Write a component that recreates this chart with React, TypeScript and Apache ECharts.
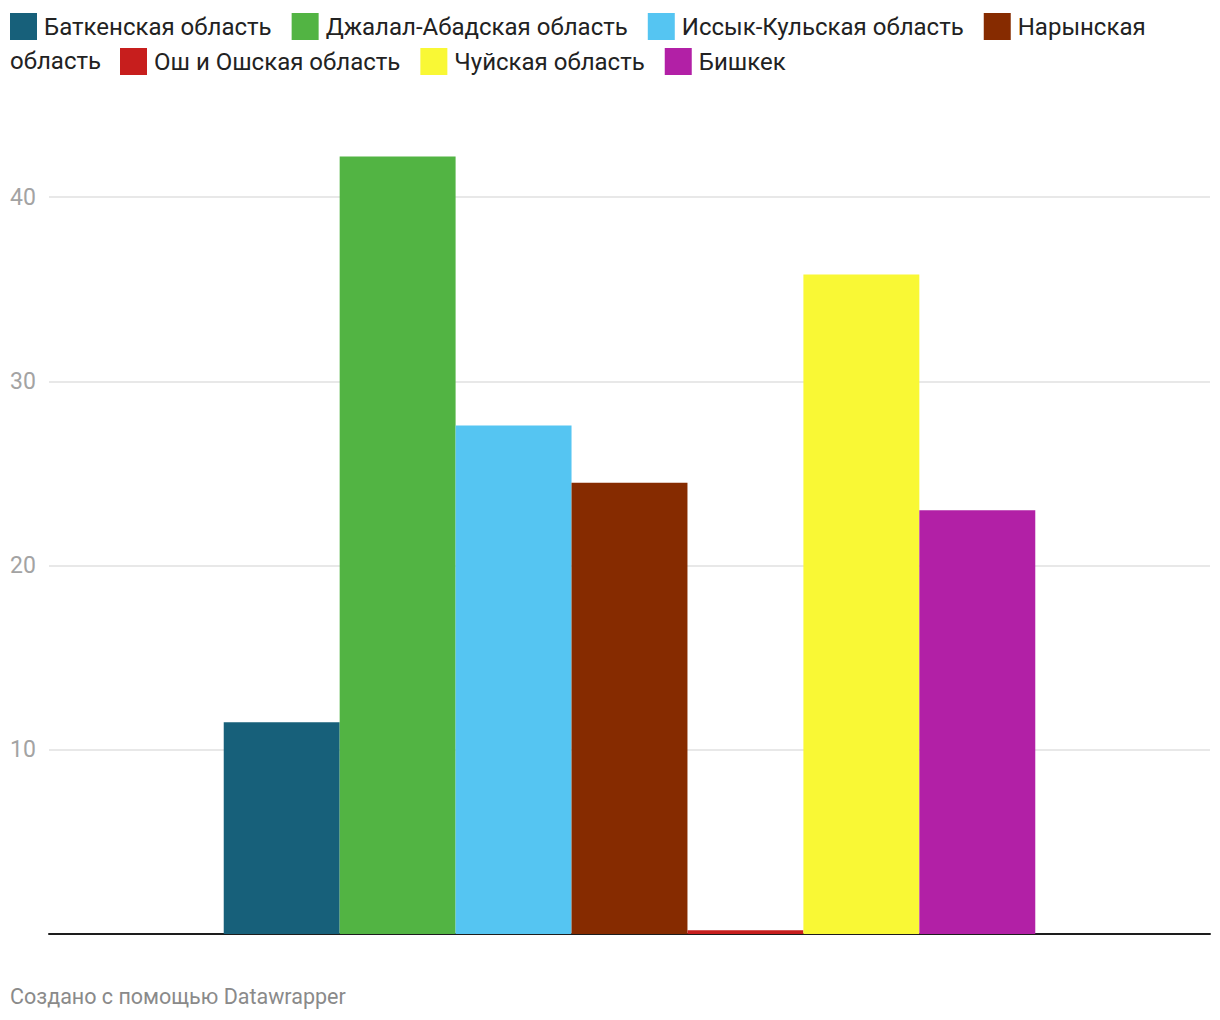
import React, { useEffect, useRef } from "react";
import * as echarts from "echarts";

const categories = [""];
const seriesNames = [
  "Баткенская область",
  "Джалал-Абадская область",
  "Иссык-Кульская область",
  "Нарынская область",
  "Ош и Ошская область",
  "Чуйская область",
  "Бишкек",
];
const seriesValues = [11.5, 42.2, 27.6, 24.5, 0.2, 35.8, 23.0];
const seriesColors = ["#17607a", "#52b443", "#55c5f2", "#862b00", "#c71e1d", "#f9f835", "#b220a6"];
const yTicks = [10, 20, 30, 40];
const footerText = "Создано с помощью Datawrapper";

const FONT = "Roboto, 'Noto Sans', sans-serif";

export default function App() {
  const ref = useRef<HTMLDivElement>(null);
  useEffect(() => {
    if (!ref.current) return;
    const chart = echarts.init(ref.current, undefined, { renderer: "svg" });
    const legendText = { fontSize: 24, color: "#222222", fontFamily: FONT, padding: [0, 0, 0, 2] };
    const option: any = {
      animation: false,
      backgroundColor: "#ffffff",
      legend: [
        {
          data: seriesNames.slice(0, 4),
          left: 10,
          top: 13,
          padding: 0,
          itemWidth: 27,
          itemHeight: 27,
          itemGap: 20,
          icon: "rect",
          selectedMode: false,
          textStyle: legendText,
          formatter: (n: string) => (n === "Нарынская область" ? "Нарынская" : n),
        },
        {
          data: seriesNames.slice(4),
          left: 120,
          top: 48,
          padding: 0,
          itemWidth: 27,
          itemHeight: 27,
          itemGap: 20,
          icon: "rect",
          selectedMode: false,
          textStyle: legendText,
        },
      ],
      graphic: [
        {
          type: "text",
          left: 10,
          top: 49,
          style: { text: "область", fontSize: 24, fill: "#222222", fontFamily: FONT },
        },
        {
          type: "text",
          left: 10,
          top: 985,
          style: { text: footerText, fontSize: 21.5, fill: "#8a8a8a", fontFamily: FONT },
        },
      ],
      grid: { left: 49, right: 10, top: 105, bottom: 86, containLabel: false },
      xAxis: {
        type: "category",
        data: categories,
        axisLine: { lineStyle: { color: "#1d1d1d", width: 2 } },
        axisTick: { show: false },
        axisLabel: { show: false },
      },
      yAxis: {
        type: "value",
        min: 0,
        max: 45,
        interval: 10,
        axisLine: { show: false },
        axisTick: { show: false },
        axisLabel: {
          margin: 39,
          align: "left",
          fontSize: 23,
          color: "#a3a3a3",
          fontFamily: FONT,
          formatter: (v: number) => (yTicks.indexOf(v) >= 0 ? String(v) : ""),
        },
        splitLine: {
          lineStyle: {
            width: 2,
            color: ["transparent", "#e8e8e8", "#e8e8e8", "#e8e8e8", "#e8e8e8", "transparent"],
          },
        },
      },
      series: seriesNames.map((name, i) => ({
        name,
        type: "bar",
        data: [seriesValues[i]],
        barGap: 0,
        barCategoryGap: "30.1%",
        itemStyle: { color: seriesColors[i] },
        z: 1,
      })),
    };
    chart.setOption(option);
    return () => chart.dispose();
  }, []);
  return (
    <div
      ref={ref}
      style={{ position: "absolute", left: 0, top: 0, width: 1220, height: 1020, background: "#fff" }}
    />
  );
}
